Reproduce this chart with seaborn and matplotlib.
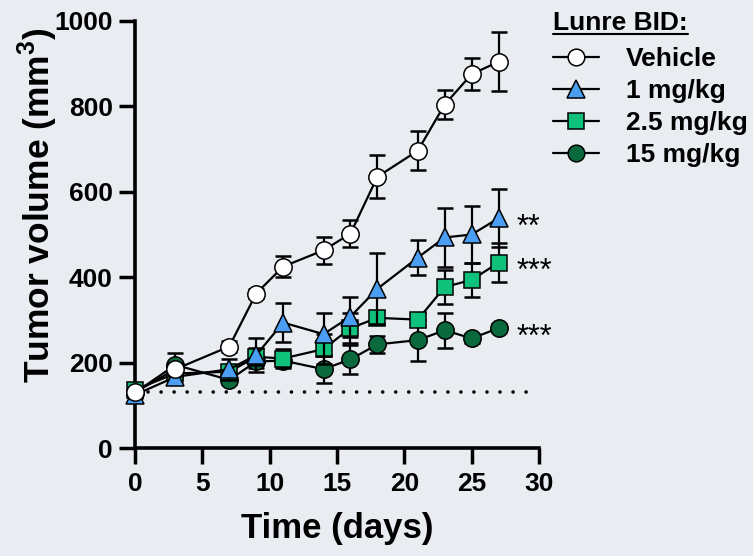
import matplotlib
matplotlib.use("Agg")
import matplotlib.pyplot as plt
from matplotlib.lines import Line2D
import seaborn as sns

# ---------------- data ----------------
days = [0, 3, 7, 9, 11, 14, 16, 18, 21, 23, 25, 27]

vehicle = [131, 185, 238, 362, 425, 463, 502, 635, 696, 804, 875, 904]
vehicle_err = [8, 15, 12, 10, 24, 31, 32, 50, 45, 33, 38, 69]

mg1 = [125, 167, 185, 218, 294, 267, 308, 373, 446, 493, 500, 538]
mg1_err = [8, 12, 25, 40, 46, 50, 47, 83, 40, 70, 66, 68]

mg25 = [137, 175, 179, 214, 210, 232, 281, 305, 301, 377, 394, 434]
mg25_err = [8, 12, 10, 20, 23, 35, 35, 15, 15, 40, 40, 46]

mg15 = [130, 195, 160, 203, 205, 185, 208, 243, 253, 276, 257, 281]
mg15_err = [8, 28, 10, 15, 15, 33, 34, 20, 48, 41, 10, 10]

group_labels = ["Vehicle", "1 mg/kg", "2.5 mg/kg", "15 mg/kg"]
significance = ["", "**", "***", "***"]
baseline_volume = 131

legend_title = "Lunre BID:"
x_label = "Time (days)"
y_label = r"Tumor volume (mm$^{\mathbf{3}}$)"
x_ticks = [0, 5, 10, 15, 20, 25, 30]
y_ticks = [0, 200, 400, 600, 800, 1000]

# ---------------- style ----------------
bg = "#e9ecf1"
sns.set_theme(style="ticks")
plt.rcParams["font.family"] = ["Liberation Sans", "DejaVu Sans"]
plt.rcParams["font.weight"] = "bold"
plt.rcParams["mathtext.fontset"] = "custom"
plt.rcParams["mathtext.bf"] = "Liberation Sans:bold"
plt.rcParams["mathtext.rm"] = "Liberation Sans:bold"
for k in ("text.color", "axes.labelcolor", "xtick.color", "ytick.color",
          "axes.edgecolor", "xtick.labelcolor", "ytick.labelcolor"):
    plt.rcParams[k] = "black"

W, H = 753, 556
X0, X1, Y0, Y1 = 135, 539, 448.3, 20.7
fig = plt.figure(figsize=(W / 100, H / 100), dpi=100, facecolor=bg)
ax = fig.add_axes([X0 / W, (H - Y0) / H, (X1 - X0) / W, (Y0 - Y1) / H])
ax.set_facecolor(bg)

series = [
    (mg15, mg15_err, "o", "#0b6a3d", 3, group_labels[3], significance[3]),
    (mg25, mg25_err, "s", "#10c17b", 4, group_labels[2], significance[2]),
    (mg1, mg1_err, "^", "#4c9ef3", 5, group_labels[1], significance[1]),
    (vehicle, vehicle_err, "o", "white", 6, group_labels[0], significance[0]),
]

# baseline dotted line
ax.axhline(baseline_volume, xmin=0.0, xmax=1.0, color="black", lw=2.6,
           linestyle=(0, (0.01, 3.6)), dash_capstyle="round", zorder=2)

msize = {"o": 12.5, "s": 12, "^": 13}
handles = {}
for vals, errs, mk, fc, z, lab, sig in series:
    ax.errorbar(days, vals, yerr=errs, fmt="none", ecolor="black",
                elinewidth=1.6, capsize=6, capthick=1.8, zorder=z - 0.5)
    sns.lineplot(x=days, y=vals, ax=ax, color="black", lw=1.6, marker=mk,
                 markersize=msize[mk], markerfacecolor=fc,
                 markeredgecolor="black", markeredgewidth=1.1,
                 zorder=z, clip_on=False, legend=False)
    handles[lab] = Line2D([], [], color="black", lw=1.6, marker=mk,
                          markersize=msize[mk] - 0.5, markerfacecolor=fc,
                          markeredgecolor="black", markeredgewidth=1.1)
    if sig:
        ax.annotate(sig, xy=(days[-1], vals[-1]), xytext=(13, -12.5),
                    textcoords="offset points", va="baseline", ha="left",
                    fontsize=22, fontweight="normal", color="black")

ax.set_xlim(0, 30)
ax.set_ylim(0, 1000)
ax.set_xticks(x_ticks)
ax.set_yticks(y_ticks)
sns.despine(ax=ax)
for s in ("left", "bottom"):
    ax.spines[s].set_linewidth(2.6)
    ax.spines[s].set_color("black")
ax.tick_params(axis="y", length=11.5, width=2.5, color="black",
               labelsize=19, pad=4.5, direction="out")
ax.tick_params(axis="x", length=11.5, width=2.5, color="black",
               labelsize=19, pad=5.5, direction="out")
for t in ax.get_xticklabels() + ax.get_yticklabels():
    t.set_fontweight("bold")

ax.set_xlabel(x_label, fontsize=25, fontweight="bold")
ax.set_ylabel(y_label, fontsize=25.5, fontweight="bold")
ax.xaxis.set_label_coords(0.5, -0.150)
ax.yaxis.set_label_coords(-0.186, 0.569)

leg = ax.legend([handles[l] for l in group_labels], group_labels,
                loc="upper left", bbox_to_anchor=(553 / W, 1 - 47.5 / H),
                bbox_transform=fig.transFigure, frameon=False,
                prop={"size": 19, "weight": "bold"},
                handlelength=1.75, handletextpad=1.0, labelspacing=0.30,
                borderpad=0, borderaxespad=0)

title = fig.text(553 / W, 1 - 23 / H, legend_title, ha="left", va="center",
                 fontsize=19, fontweight="bold", color="black")
fig.canvas.draw()
tb = title.get_window_extent(fig.canvas.get_renderer())
fig.add_artist(Line2D([tb.x0 / W, tb.x1 / W], [1 - 34 / H, 1 - 34 / H],
                      color="black", lw=1.5, transform=fig.transFigure))

fig.savefig("out.png", dpi=100, facecolor=bg)
